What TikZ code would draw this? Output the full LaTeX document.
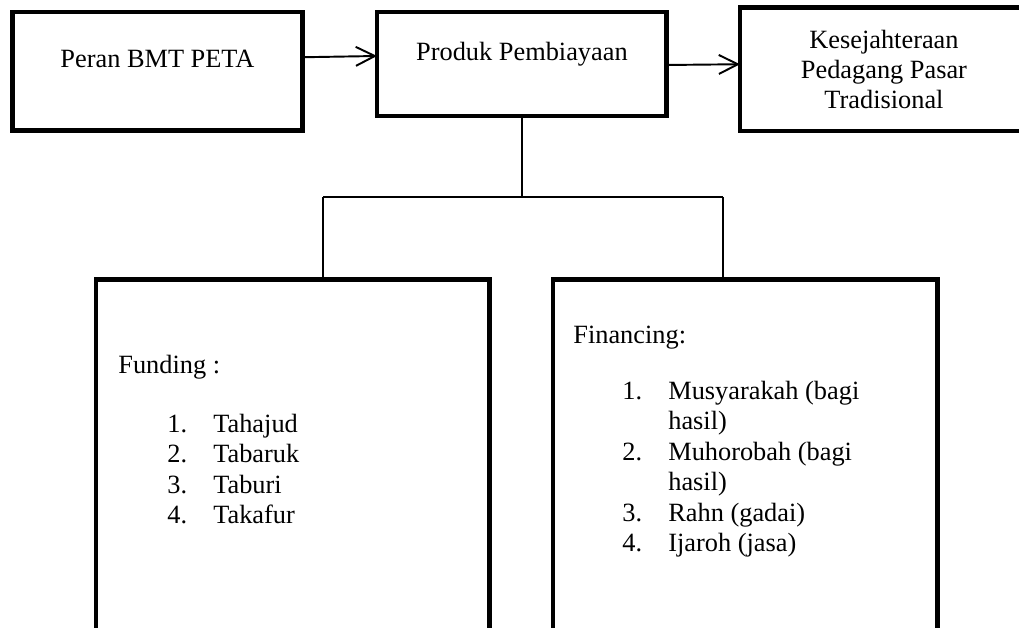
\documentclass[tikz,border=0pt]{standalone}
\usepackage{fontspec}
\setmainfont{Liberation Serif}
\usetikzlibrary{arrows.meta,positioning,calc}

\newcommand{\listitem}[2]{\hspace*{0.98cm}\makebox[0.92cm][l]{#1}#2}

\begin{document}
\begin{tikzpicture}[
        x=0.02cm, y=-0.02cm,
        box/.style={rectangle, draw, line width=2.8pt, outer sep=0pt, inner sep=0pt,
            anchor=north west, align=center, font=\fontsize{15}{17}\selectfont},
        raised/.style={text height=0.4cm, text depth=0.55cm},
        listtext/.style={anchor=base west, inner sep=0pt, align=left,
            font=\fontsize{15}{17.4}\selectfont},
        link/.style={line width=0.7pt},
        flow/.style={line width=1.1pt, -{Straight Barb[length=3.8mm,width=3.8mm]}}
    ]
        \useasboundingbox (0,0) rectangle (1019,628);

        % top row
        \node[box, raised, minimum width=5.8cm, minimum height=2.37cm] (peran) at (12.5,12) {Peran BMT PETA};
        \node[box, raised, minimum width=5.8cm, minimum height=2.08cm] (produk) at (377,12) {Produk Pembiayaan};
        \node[box, minimum width=5.76cm, minimum height=2.47cm] (sejahtera) at (740,7.5)
            {Kesejahteraan\\Pedagang Pasar\\Tradisional};
        \draw[flow] ([yshift=0.28cm]peran.east) -- ([yshift=0.16cm]produk.west);
        \draw[flow] ([yshift=-0.02cm]produk.east) -- ([yshift=0.1cm]sejahtera.west);

        % bottom panels (lists hang from the baseline of their last line)
        \node[box, minimum width=7.87cm, minimum height=7.03cm] (funding) at (96,279.5) {};
        \node[box, minimum width=7.7cm, minimum height=7.03cm] (financing) at (553,279.5) {};
        \node[listtext] (fundlist) at ([xshift=0.44cm, yshift=-4.89cm]funding.north west)
            {Funding :\\[16pt]
             \listitem{1.}{Tahajud}\\
             \listitem{2.}{Tabaruk}\\
             \listitem{3.}{Taburi}\\
             \listitem{4.}{Takafur}};
        \node[listtext] (finlist) at ([xshift=0.4cm, yshift=-5.45cm]financing.north west)
            {Financing:\\[14pt]
             \listitem{1.}{Musyarakah (bagi}\\
             \listitem{}{hasil)}\\
             \listitem{2.}{Muhorobah (bagi}\\
             \listitem{}{hasil)}\\
             \listitem{3.}{Rahn (gadai)}\\
             \listitem{4.}{Ijaroh (jasa)}};

        % tree connector
        \coordinate (jl) at (323,197);
        \coordinate (jr) at (723,197);
        \draw[link] (produk.south) -- (produk.south |- jl);
        \draw[link] (jl) -- (jr);
        \draw[link] (jl) -- (jl |- funding.north);
        \draw[link] (jr) -- (jr |- financing.north);
    \end{tikzpicture}
\end{document}
